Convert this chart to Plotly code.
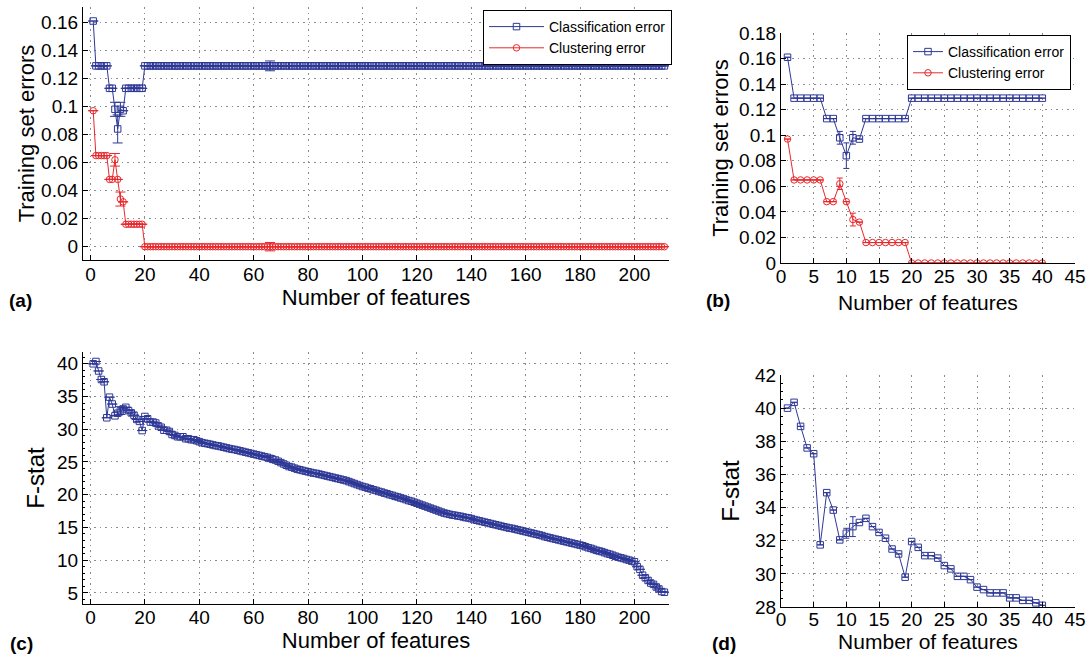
import plotly.graph_objects as go

# ---------------- data ----------------
# Panel (a)/(b): training set errors vs number of features
n_features_all = list(range(1, 212))
n_features_40 = list(range(1, 41))

class_err_40 = [0.161, 0.129, 0.129, 0.129, 0.129, 0.129, 0.113, 0.113, 0.098, 0.084,
                0.098, 0.097, 0.113, 0.113, 0.113, 0.113, 0.113, 0.113, 0.113, 0.129,
                0.129, 0.129, 0.129, 0.129, 0.129, 0.129, 0.129, 0.129, 0.129, 0.129,
                0.129, 0.129, 0.129, 0.129, 0.129, 0.129, 0.129, 0.129, 0.129, 0.129]
class_err_all = class_err_40 + [0.129] * 171

clust_err_40 = [0.097, 0.065, 0.065, 0.065, 0.065, 0.065, 0.048, 0.048, 0.062, 0.048,
                0.034, 0.032, 0.016, 0.016, 0.016, 0.016, 0.016, 0.016, 0.016, 0.0,
                0.0, 0.0, 0.0, 0.0, 0.0, 0.0, 0.0, 0.0, 0.0, 0.0,
                0.0, 0.0, 0.0, 0.0, 0.0, 0.0, 0.0, 0.0, 0.0, 0.0]
clust_err_all = clust_err_40 + [0.0] * 171

# standard deviations (only where visibly non-zero); feature number -> sd
class_sd = {9: 0.005, 10: 0.010, 11: 0.005, 66: 0.0035}
clust_sd = {9: 0.0045, 11: 0.005, 66: 0.003}

# Panel (c)/(d): F-stat vs number of features
fstat_all = [
    40.0, 40.35, 38.9, 37.6, 37.25, 31.75, 34.9, 33.85, 32.05, 32.45,
    32.85, 33.1, 33.35, 32.85, 32.5, 32.15, 31.5, 31.2, 29.8, 31.95,
    31.6, 31.1, 31.1, 30.95, 30.5, 30.3, 29.85, 29.85, 29.65, 29.2,
    29.05, 28.85, 28.85, 28.85, 28.55, 28.55, 28.4, 28.4, 28.25, 28.1,
    27.95, 27.85, 27.8, 27.7, 27.6, 27.5, 27.45, 27.35, 27.25, 27.15,
    27.05, 26.95, 26.9, 26.8, 26.7, 26.6, 26.5, 26.4, 26.3, 26.2,
    26.1, 26.0, 25.9, 25.8, 25.7, 25.55, 25.4, 25.3, 25.1, 24.9,
    24.7, 24.5, 24.3, 24.2, 24.05, 23.9, 23.8, 23.7, 23.6, 23.5,
    23.4, 23.3, 23.25, 23.15, 23.05, 22.95, 22.85, 22.75, 22.65, 22.55,
    22.45, 22.35, 22.25, 22.15, 22.0, 21.85, 21.7, 21.55, 21.4, 21.25,
    21.15, 21.0, 20.9, 20.75, 20.65, 20.5, 20.4, 20.25, 20.15, 20.0,
    19.9, 19.75, 19.65, 19.5, 19.4, 19.25, 19.1, 19.0, 18.85, 18.7,
    18.55, 18.4, 18.25, 18.1, 17.95, 17.8, 17.65, 17.5, 17.35, 17.2,
    17.1, 17.0, 16.9, 16.85, 16.75, 16.7, 16.6, 16.5, 16.45, 16.35,
    16.2, 16.1, 16.0, 15.9, 15.8, 15.7, 15.6, 15.5, 15.4, 15.3,
    15.2, 15.1, 15.0, 14.9, 14.85, 14.75, 14.65, 14.55, 14.45, 14.35,
    14.25, 14.15, 14.05, 13.95, 13.85, 13.75, 13.6, 13.5, 13.4, 13.3,
    13.2, 13.1, 13.0, 12.9, 12.8, 12.7, 12.6, 12.5, 12.4, 12.3,
    12.2, 12.05, 11.9, 11.8, 11.65, 11.5, 11.4, 11.3, 11.15, 11.0,
    10.9, 10.75, 10.6, 10.45, 10.35, 10.25, 10.1, 10.0, 9.85, 9.75,
    9.0, 8.6, 7.7, 7.3, 6.9, 6.5, 6.3, 5.9, 5.6, 5.2, 5.1]
fstat_40 = fstat_all[:40]
fstat_sd = {10: 0.3, 11: 0.6, 66: 0.4}

# tick values
yticks_err_a = [0, 0.02, 0.04, 0.06, 0.08, 0.1, 0.12, 0.14, 0.16]
yticks_err_b = [0, 0.02, 0.04, 0.06, 0.08, 0.1, 0.12, 0.14, 0.16, 0.18]
yticks_f_c = [5, 10, 15, 20, 25, 30, 35, 40]
yticks_f_d = [28, 30, 32, 34, 36, 38, 40, 42]
xticks_long = [0, 20, 40, 60, 80, 100, 120, 140, 160, 180, 200]
xticks_short = [0, 5, 10, 15, 20, 25, 30, 35, 40, 45]

# ---------------- style ----------------
BLUE = "#2e3896"
RED = "#e8282c"
FONT = "Liberation Sans"
W, H = 1090, 655


def sd_array(xs, sd):
    return [sd.get(x, 0.0) for x in xs]


def px_dom(a, b, size):
    return [a / size, b / size]


def py_dom(top, bottom):
    return [1 - bottom / H, 1 - top / H]


fig = go.Figure()


def add_series(x, y, sd, color, symbol, name, xa, ya, cap, showlegend, legend):
    fig.add_trace(go.Scatter(
        x=x, y=y, mode="lines+markers", name=name,
        line=dict(color=color, width=1),
        marker=dict(symbol=symbol, size=6.5, color=color,
                    line=dict(color=color, width=1)),
        error_y=dict(type="data", array=sd_array(x, sd), visible=True,
                     color=color, thickness=1, width=cap),
        xaxis=xa, yaxis=ya, showlegend=showlegend, legend=legend))


# (a)
add_series(n_features_all, class_err_all, class_sd, BLUE, "square-open",
           "Classification error", "x", "y", 5, True, "legend")
add_series(n_features_all, clust_err_all, clust_sd, RED, "circle-open",
           "Clustering error", "x", "y", 5, True, "legend")
# (b)
add_series(n_features_40, class_err_40, class_sd, BLUE, "square-open",
           "Classification error", "x2", "y2", 3, True, "legend2")
add_series(n_features_40, clust_err_40, clust_sd, RED, "circle-open",
           "Clustering error", "x2", "y2", 3, True, "legend2")
# (c)
add_series(n_features_all, fstat_all, fstat_sd, BLUE, "square-open",
           "F-stat", "x3", "y3", 5, False, "legend")
# (d)
add_series(n_features_40, fstat_40, fstat_sd, BLUE, "square-open",
           "F-stat", "x4", "y4", 3, False, "legend")

TICKF = dict(family=FONT, size=19, color="black")
XTITLE_L = dict(family=FONT, size=22, color="black")
XTITLE_R = dict(family=FONT, size=21, color="black")
YTITLE = dict(family=FONT, size=22, color="black")
FTITLE = dict(family=FONT, size=24, color="black")

common_axis = dict(
    showline=True, linecolor="black", linewidth=1.2, ticks="inside",
    ticklen=5, tickcolor="black", showgrid=True, gridcolor="#8c8c8c",
    griddash="1.5px,4px", gridwidth=1, zeroline=False, tickfont=TICKF,
    mirror=False, automargin=False,
)

dom_a_x = px_dom(83, 669, W)
dom_b_x = px_dom(781, 1075, W)
dom_a_y = py_dom(7, 260)
dom_b_y = py_dom(33, 263)
dom_c_y = py_dom(352, 604)
dom_d_y = py_dom(375, 607)

fig.update_layout(
    width=W, height=H, margin=dict(l=0, r=0, t=0, b=0),
    paper_bgcolor="white", plot_bgcolor="white",
    font=dict(family=FONT, color="black"),
    xaxis=dict(common_axis, domain=dom_a_x, anchor="y", range=[-2.75, 212.7],
               tickvals=xticks_long, ticklabelstandoff=-3,
               title=dict(text="Number of features", font=XTITLE_L, standoff=5)),
    yaxis=dict(common_axis, domain=dom_a_y, anchor="x", range=[-0.0095, 0.171],
               tickvals=yticks_err_a,
               title=dict(text="Training set errors", font=YTITLE, standoff=0)),
    xaxis2=dict(common_axis, domain=dom_b_x, anchor="y2", range=[0, 45],
                tickvals=xticks_short, ticklabelstandoff=-4,
                title=dict(text="Number of features", font=XTITLE_R, standoff=9)),
    yaxis2=dict(common_axis, domain=dom_b_y, anchor="x2", range=[0, 0.18],
                tickvals=yticks_err_b,
                title=dict(text="Training set errors", font=YTITLE, standoff=4)),
    xaxis3=dict(common_axis, domain=dom_a_x, anchor="y3", range=[-2.75, 212.7],
                tickvals=xticks_long, ticklabelstandoff=-4,
                title=dict(text="Number of features", font=XTITLE_L, standoff=3)),
    yaxis3=dict(common_axis, domain=dom_c_y, anchor="x3", range=[3.3, 41.8],
                tickvals=yticks_f_c, minor=dict(ticks="inside", ticklen=2, nticks=10, tickcolor="black"),
                title=dict(text="F-stat", font=FTITLE, standoff=5)),
    xaxis4=dict(common_axis, domain=dom_b_x, anchor="y4", range=[0, 45],
                tickvals=xticks_short, ticklabelstandoff=-5,
                title=dict(text="Number of features", font=XTITLE_R, standoff=3)),
    yaxis4=dict(common_axis, domain=dom_d_y, anchor="x4", range=[28, 42],
                tickvals=yticks_f_d, minor=dict(ticks="inside", ticklen=2, nticks=10, tickcolor="black"),
                title=dict(text="F-stat", font=FTITLE, standoff=8)),
    legend=dict(x=672 / W, y=1 - 10 / H, xanchor="right", yanchor="top",
                bgcolor="white", bordercolor="black", borderwidth=1,
                font=dict(family=FONT, size=14, color="black"),
                tracegroupgap=0, itemwidth=55),
    legend2=dict(x=1071 / W, y=1 - 35 / H, xanchor="right", yanchor="top",
                 bgcolor="white", bordercolor="black", borderwidth=1,
                 font=dict(family=FONT, size=14, color="black"),
                 tracegroupgap=0, itemwidth=30),
)

for label, xp, yp in [("(a)", 20, 301), ("(b)", 718, 300), ("(c)", 21, 643), ("(d)", 724, 643)]:
    fig.add_annotation(text="<b>%s</b>" % label, x=xp / W, y=1 - yp / H, xref="paper",
                       yref="paper", showarrow=False, xanchor="center", yanchor="middle",
                       font=dict(family=FONT, size=19, color="black"))

fig.write_html("out.html", config={"displayModeBar": False},
               post_script="document.body.style.margin='0';document.body.style.overflow='hidden';")
